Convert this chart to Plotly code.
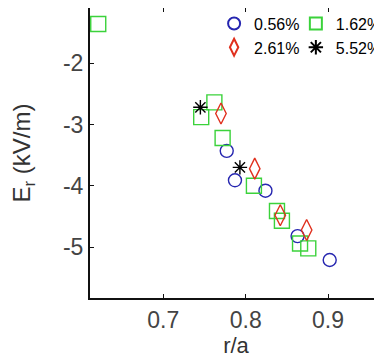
import plotly.graph_objects as go

# r/a and Er (kV/m) for each density series
r_056 = [0.777, 0.787, 0.824, 0.863, 0.902]
e_056 = [-3.43, -3.91, -4.08, -4.82, -5.21]

r_162 = [0.621, 0.746, 0.762, 0.772, 0.810, 0.838, 0.844, 0.866, 0.876]
e_162 = [-1.36, -2.88, -2.64, -3.22, -4.00, -4.41, -4.57, -4.94, -5.02]

r_261 = [0.770, 0.811, 0.842, 0.874]
e_261 = [-2.82, -3.72, -4.48, -4.72]

r_552 = [0.745, 0.793]
e_552 = [-2.72, -3.70]

x_ticks = [0.7, 0.8, 0.9]
y_ticks = [-2, -3, -4, -5]

FONT = "Liberation Sans, Arial, sans-serif"

fig = go.Figure()
# legend column 1: 0.56%, 2.61% ; legend column 2: 1.62%, 5.52%
fig.add_trace(go.Scatter(x=r_056, y=e_056, mode="markers", name="0.56%",
                         marker=dict(symbol="circle-open", size=13, color="#2626b0",
                                     line=dict(width=1.4)), legend="legend"))
fig.add_trace(go.Scatter(x=r_162, y=e_162, mode="markers", name="1.62%",
                         marker=dict(symbol="square-open", size=15, color="#3bd23b",
                                     line=dict(width=1.4)), legend="legend2"))
fig.add_trace(go.Scatter(x=r_261, y=e_261, mode="markers", name="2.61%",
                         marker=dict(symbol="diamond-tall-open", size=15, color="#e0301e",
                                     line=dict(width=1.4)), legend="legend"))
fig.add_trace(go.Scatter(x=r_552, y=e_552, mode="markers", name="5.52%",
                         marker=dict(symbol="asterisk-open", size=12, color="black",
                                     line=dict(width=1.4, color="black")), legend="legend2"))

axis_common = dict(showline=True, linecolor="#111", linewidth=2, mirror="ticks",
                   ticks="inside", ticklen=4, tickcolor="#111", showgrid=False,
                   zeroline=False, automargin=False,
                   tickfont=dict(size=23, family=FONT, color="#444"))

legend_common = dict(orientation="v", xanchor="left", yanchor="top",
                     bgcolor="rgba(0,0,0,0)", font=dict(size=16, family=FONT, color="black"),
                     itemwidth=30, tracegroupgap=0, itemsizing="constant")

# page body has an 8px default margin, so the figure is 8px smaller than the window
fig.update_layout(
    width=374, height=355,
    margin=dict(l=82, r=0, t=0, b=65, autoexpand=False),
    plot_bgcolor="white", paper_bgcolor="white",
    font=dict(family=FONT, color="#222"),
    showlegend=True,
    xaxis=dict(range=[0.611, 0.9655], tickvals=x_ticks,
               ticktext=[str(v) for v in x_ticks],
               title=dict(text="r/a", font=dict(size=22, family=FONT, color="#333"), standoff=2),
               **axis_common),
    yaxis=dict(range=[-5.83, -1.10], tickvals=y_ticks,
               ticktext=[str(v) for v in y_ticks],
               title=dict(text="E<sub>r</sub> (kV/m)", font=dict(size=24, family=FONT, color="#333"),
                          standoff=28),
               **axis_common),
    legend=dict(x=0.425, y=1.005, **legend_common),
    legend2=dict(x=0.705, y=1.005, **legend_common),
)

fig.write_html("out.html")
